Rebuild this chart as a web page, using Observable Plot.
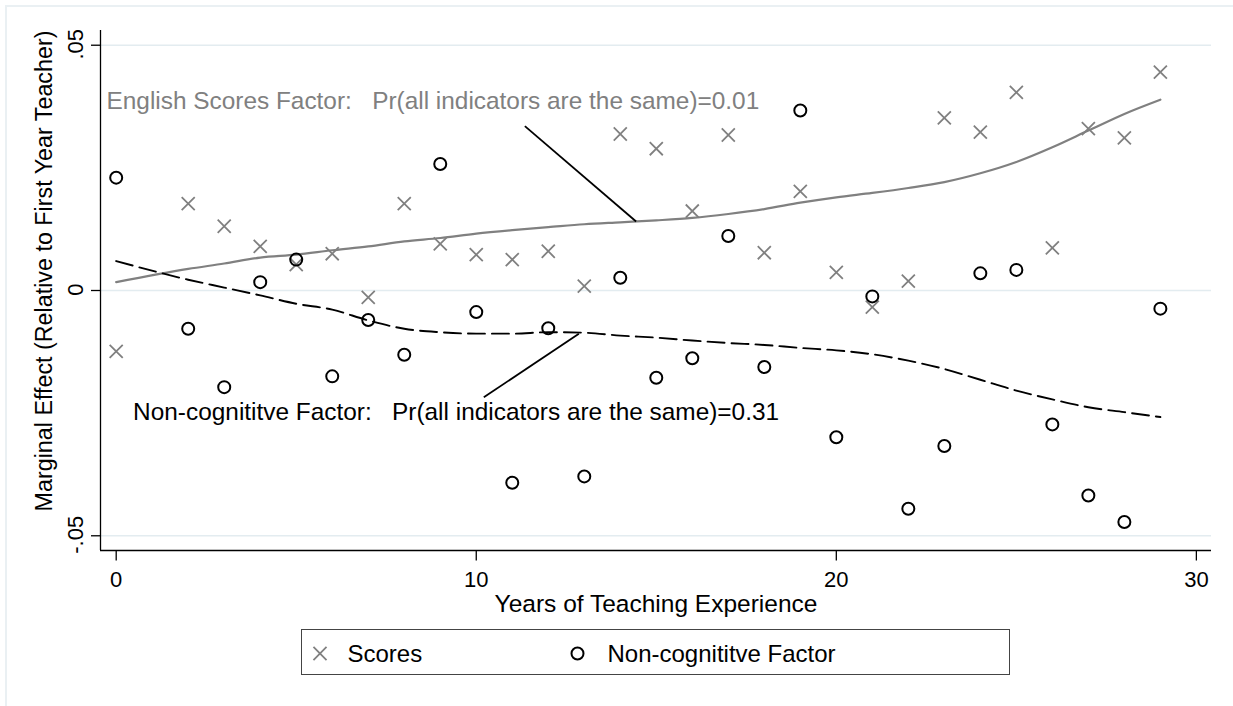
<!DOCTYPE html>
<html>
<head>
<meta charset="utf-8">
<script src="https://cdn.jsdelivr.net/npm/d3@7"></script>
<script src="https://cdn.jsdelivr.net/npm/@observablehq/plot@0.6"></script>
<style>
  html, body { margin: 0; padding: 0; background: #fff; }
  #wrap { position: relative; width: 1233px; height: 706px; overflow: hidden; font-family: "Liberation Sans", Arial, sans-serif; }
  #outer { position: absolute; left: 5px; top: 5px; width: 1240px; height: 720px; border-left: 2px solid #eaf0f3; border-top: 2px solid #eaf0f3; box-sizing: border-box; }
  #chart { position: absolute; left: 0; top: 0; }
  #legend { position: absolute; left: 301px; top: 629px; width: 709px; height: 46px; border: 1.3px solid #444; box-sizing: border-box; background: #fff; }
</style>
</head>
<body>
<div id="wrap">
  <div id="outer"></div>
  <div id="chart"></div>
  <div id="legend"></div>
</div>
<script>
// ---- Data ----
const years = [0, 2, 3, 4, 5, 6, 7, 8, 9, 10, 11, 12, 13, 14, 15, 16, 17, 18, 19, 20, 21, 22, 23, 24, 25, 26, 27, 28, 29];
const scores = [-0.0124, 0.0177, 0.0131, 0.0090, 0.0053, 0.0075, -0.0014, 0.0177, 0.0095, 0.0073, 0.0063, 0.0080, 0.0009, 0.0319, 0.0289, 0.0162, 0.0317, 0.0077, 0.0202, 0.0037, -0.0034, 0.0019, 0.0352, 0.0323, 0.0404, 0.0087, 0.0330, 0.0311, 0.0445];
const noncog = [0.0230, -0.0078, -0.0197, 0.0017, 0.0063, -0.0175, -0.0060, -0.0131, 0.0258, -0.0044, -0.0392, -0.0077, -0.0379, 0.0026, -0.0178, -0.0138, 0.0111, -0.0156, 0.0367, -0.0299, -0.0012, -0.0445, -0.0317, 0.0035, 0.0042, -0.0273, -0.0418, -0.0472, -0.0037];
const scoresFit = [0.0017, 0.0044, 0.0055, 0.0067, 0.0073, 0.0082, 0.0090, 0.0100, 0.0107, 0.0116, 0.0123, 0.0129, 0.0135, 0.0139, 0.0143, 0.0148, 0.0156, 0.0166, 0.0179, 0.0190, 0.0199, 0.0209, 0.0221, 0.0239, 0.0262, 0.0292, 0.0326, 0.0360, 0.0389];
const noncogFit = [0.0060, 0.0022, 0.0006, -0.0010, -0.0027, -0.0039, -0.0061, -0.0078, -0.0085, -0.0088, -0.0088, -0.0085, -0.0086, -0.0092, -0.0096, -0.0102, -0.0107, -0.0111, -0.0117, -0.0122, -0.0130, -0.0143, -0.0160, -0.0182, -0.0204, -0.0222, -0.0238, -0.0248, -0.0258];

const xTicks = [0, 10, 20, 30];
const yTicks = [-0.05, 0, 0.05];
const yTickLabels = ["-.05", "0", ".05"];
const xDomain = [-0.436, 30.42];
const yDomain = [-0.053, 0.053];
const xLabel = "Years of Teaching Experience";
const yLabel = "Marginal Effect (Relative to First Year Teacher)";
const legendLabels = ["Scores", "Non-cognititve Factor"];

// annotations
const annoTexts = ["English Scores Factor:   Pr(all indicators are the same)=0.01", "Non-cognititve Factor:   Pr(all indicators are the same)=0.31"];
const annoX = [-0.27, 0.47];
const annoY = [0.0386, -0.0249];
const annoColor = ["#808080", "#000000"];
const linkX1 = [11.35, 10.21];
const linkY1 = [0.0335, -0.02175];
const linkX2 = [14.44, 12.85];
const linkY2 = [0.01406, -0.00883];

// ---- Build tables ----
const pts = years.map((x, i) => ({x, scores: scores[i], noncog: noncog[i], sf: scoresFit[i], nf: noncogFit[i]}));
const annos = annoTexts.map((t, i) => ({t, x: annoX[i], y: annoY[i], c: annoColor[i]}));
const links = linkX1.map((d, i) => ({x1: linkX1[i], y1: linkY1[i], x2: linkX2[i], y2: linkY2[i]}));

const gray = "#808080";
const font = "'Liberation Sans', Arial, sans-serif";

const chart = Plot.plot({
  width: 1233,
  height: 620,
  marginLeft: 100,
  marginRight: 22,
  marginTop: 30,
  marginBottom: 70,
  x: {domain: xDomain},
  y: {domain: yDomain},
  style: {fontFamily: font, background: "transparent", color: "#000", overflow: "visible"},
  marks: [
    Plot.gridY(yTicks, {stroke: "#e3ecf0", strokeOpacity: 1, strokeWidth: 1.6}),
    Plot.ruleX([xDomain[0]], {stroke: "#000", strokeWidth: 1.3}),
    Plot.ruleY([yDomain[0]], {stroke: "#000", strokeWidth: 1.3}),
    Plot.axisY({ticks: yTicks, tickSize: 9, tickFormat: () => "", label: null, strokeWidth: 1.3}),
    Plot.text(yTicks, {y: d => d, text: (d, i) => yTickLabels[i], frameAnchor: "left", textAnchor: "middle", lineAnchor: "middle", dx: -25, dy: -1, rotate: -90, fontSize: 22, fill: "#000"}),
    Plot.axisX({ticks: xTicks, tickSize: 10.5, tickPadding: 10.5, fontSize: 22, label: null, strokeWidth: 1.3}),
    Plot.text([xLabel], {frameAnchor: "bottom", textAnchor: "middle", lineAnchor: "middle", dy: 53.5, fontSize: 24.5, fill: "#000"}),
    Plot.text([yLabel], {frameAnchor: "left", textAnchor: "middle", lineAnchor: "middle", dx: -56, dy: -19.5, rotate: -90, fontSize: 23.3, fill: "#000"}),
    Plot.line(pts, {x: "x", y: "sf", stroke: gray, strokeWidth: 2.2, curve: "monotone-x"}),
    Plot.line(pts, {x: "x", y: "nf", stroke: "#000", strokeWidth: 1.9, strokeDasharray: "17,7", curve: "monotone-x"}),
    Plot.dot(pts, {x: "x", y: "scores", symbol: "times", r: 6, stroke: gray, strokeWidth: 1.8}),
    Plot.dot(pts, {x: "x", y: "noncog", symbol: "circle", r: 6, stroke: "#000", strokeWidth: 2, fill: "none"}),
    Plot.link(links, {x1: "x1", y1: "y1", x2: "x2", y2: "y2", stroke: "#000", strokeWidth: 1.8}),
    Plot.text(annos, {x: "x", y: "y", text: "t", fill: "c", textAnchor: "start", fontSize: 24.4})
  ]
});
document.getElementById("chart").appendChild(chart);

// ---- Legend (HTML/SVG below the plot) ----
const ns = "http://www.w3.org/2000/svg";
const lg = document.createElementNS(ns, "svg");
lg.setAttribute("width", 707);
lg.setAttribute("height", 44);
lg.style.display = "block";
lg.style.fontFamily = font;
const symX = [18, 275.5];
const txtX = [45.5, 305.5];
legendLabels.forEach((lab, i) => {
  if (i === 0) {
    const p = document.createElementNS(ns, "path");
    p.setAttribute("d", d3.symbol(d3.symbolTimes, Math.PI * 36)());
    p.setAttribute("transform", `translate(${symX[i]},23.5)`);
    p.setAttribute("stroke", gray);
    p.setAttribute("stroke-width", 1.8);
    p.setAttribute("fill", "none");
    lg.appendChild(p);
  } else {
    const c = document.createElementNS(ns, "circle");
    c.setAttribute("cx", symX[i]);
    c.setAttribute("cy", 23.5);
    c.setAttribute("r", 6);
    c.setAttribute("stroke", "#000");
    c.setAttribute("stroke-width", 2);
    c.setAttribute("fill", "none");
    lg.appendChild(c);
  }
  const t = document.createElementNS(ns, "text");
  t.setAttribute("x", txtX[i]);
  t.setAttribute("y", 31.8);
  t.setAttribute("font-size", 24);
  t.setAttribute("fill", "#000");
  t.textContent = lab;
  lg.appendChild(t);
});
document.getElementById("legend").appendChild(lg);
</script>
</body>
</html>
